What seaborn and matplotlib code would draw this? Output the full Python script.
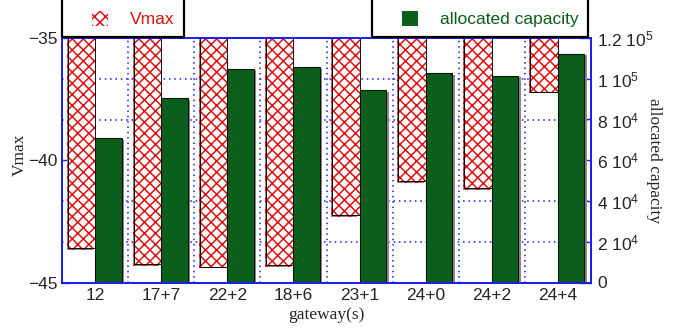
import numpy as np
import pandas as pd
import matplotlib
matplotlib.use("Agg")
import matplotlib.pyplot as plt
import seaborn as sns
from matplotlib import patheffects as pe
from matplotlib.patches import Patch, Rectangle
from matplotlib.ticker import FixedLocator, FuncFormatter

# ---- data ----
gateways = ["12", "17+7", "22+2", "18+6", "23+1", "24+0", "24+2", "24+4"]
vmax = [-43.6, -44.25, -44.35, -44.3, -42.25, -40.85, -41.15, -37.2]
capacity = [71000, 90600, 104900, 105700, 94400, 102800, 101500, 112300]
series = ["Vmax", "allocated capacity"]
left_ticks = [-35, -40, -45]
right_ticks = [0, 20000, 40000, 60000, 80000, 100000, 120000]

sns.set_style("white")
plt.rcParams["font.family"] = ["Liberation Sans", "DejaVu Sans"]
plt.rcParams["mathtext.fontset"] = "custom"
plt.rcParams["mathtext.rm"] = "Liberation Sans"
plt.rcParams["mathtext.default"] = "regular"
plt.rcParams["hatch.linewidth"] = 1.1

RED = "#dd1111"
GREEN = "#0b5e1c"
BLUE = "#1a1aee"
SERIF = ["Liberation Serif", "DejaVu Serif"]
FS = 12.5
HATCH = "xxx"

fig = plt.figure(figsize=(6.75, 3.3), dpi=100)
ax1 = fig.add_axes([62 / 675, 47.5 / 330, 529 / 675, 244.5 / 330])
ax2 = ax1.twinx()

df_v = pd.DataFrame({"gateway": gateways, "value": vmax, "series": series[0]})
df_c = pd.DataFrame({"gateway": gateways, "value": capacity, "series": series[1]})
pal = {series[0]: "white", series[1]: GREEN}

sns.barplot(data=df_v, x="gateway", y="value", hue="series", hue_order=series,
            order=gateways, palette=pal, dodge=True, width=0.8, errorbar=None,
            legend=False, saturation=1, ax=ax1)
sns.barplot(data=df_c, x="gateway", y="value", hue="series", hue_order=series,
            order=gateways, palette=pal, dodge=True, width=0.8, errorbar=None,
            legend=False, saturation=1, ax=ax2)

for p in ax1.patches:
    p.set_edgecolor(RED)
    p.set_hatch(HATCH)
    p.set_linewidth(0)
    p.set_path_effects([
        pe.SimplePatchShadow(offset=(-1.5, -1.2), shadow_rgbFace="0.55", alpha=1),
        pe.Stroke(linewidth=1.3, foreground="black"),
        pe.Normal(),
    ])
for p in ax2.patches:
    p.set_edgecolor("#111111")
    p.set_linewidth(0.8)
    p.set_path_effects([
        pe.SimplePatchShadow(offset=(1.8, -1.2), shadow_rgbFace="0.55", alpha=1),
        pe.Normal(),
    ])

# axes ranges / ticks
ax1.set_xlim(-0.5, len(gateways) - 0.5)
ax1.set_ylim(-45, -35)
ax1.set_yticks(left_ticks)
ax2.set_ylim(0, 120000)
ax2.set_yticks(right_ticks)


def cap_fmt(v, pos):
    if v == 0:
        return "0"
    e = int(np.floor(np.log10(v)))
    m = v / 10 ** e
    return "%g $10^{%d}$" % (m, e)


ax2.yaxis.set_major_formatter(FuncFormatter(cap_fmt))

grid_pos = -45 + np.array(right_ticks) / 120000 * 10
ax1.yaxis.set_minor_locator(FixedLocator(grid_pos))
ax1.xaxis.set_minor_locator(FixedLocator(np.arange(0.5, len(gateways) - 0.5, 1)))
ax1.grid(False)
ax1.grid(which="minor", color=BLUE, linestyle=(0, (1, 2.5)), linewidth=1.1)
ax1.set_axisbelow(True)
ax2.grid(False)
ax2.patch.set_visible(False)

ax1.tick_params(axis="y", which="major", direction="in", length=5, width=1,
                color=BLUE, labelsize=FS, pad=3.5, left=True)
ax1.tick_params(which="minor", length=0)
ax1.tick_params(axis="x", which="major", length=0, labelsize=FS, pad=4)
ax2.tick_params(axis="y", which="major", direction="in", length=9, width=1,
                color=BLUE, labelsize=FS, pad=4.3, right=True)

for ax in (ax1, ax2):
    for s in ax.spines.values():
        s.set_color(BLUE)
        s.set_linewidth(1.2)
        s.set_visible(True)

# labels
ax1.set_xlabel("gateway(s)", fontfamily=SERIF, fontsize=FS)
ax1.xaxis.set_label_coords(0.5, -0.133)
ax1.xaxis.label.set_va("center")
ax1.set_ylabel("Vmax", fontfamily=SERIF, fontsize=FS)
ax1.yaxis.set_label_coords(-42 / 529, 0.521)
ax1.yaxis.label.set(ha="center", va="center")
ax2.set_ylabel("allocated capacity", fontfamily=SERIF, fontsize=FS, rotation=270)
ax2.yaxis.set_label_coords(592 / 529, 0.5)
ax2.yaxis.label.set(ha="center", va="center", rotation_mode="anchor")

# legend boxes
for x0, x1 in [(62, 184), (371.7, 588.3)]:
    fig.patches.append(Rectangle((x0 / 675, 1 - 37 / 330), (x1 - x0) / 675, 45 / 330,
                                 transform=fig.transFigure, fill=False,
                                 edgecolor="black", linewidth=1.6, clip_on=False))

em = FS * 100 / 72
fig.legend(handles=[Patch(facecolor="white", edgecolor=RED, hatch=HATCH, linewidth=0)],
           labels=[series[0]], loc="center left",
           bbox_to_anchor=(92 / 675, 1 - 19 / 330), bbox_transform=fig.transFigure,
           frameon=False, borderpad=0, borderaxespad=0,
           handlelength=16 / em, handleheight=16 / em, handletextpad=22 / em,
           fontsize=FS, labelcolor=RED)
fig.legend(handles=[Patch(facecolor=GREEN, edgecolor="none", linewidth=0)],
           labels=[series[1]], loc="center left",
           bbox_to_anchor=(401.7 / 675, 1 - 19 / 330), bbox_transform=fig.transFigure,
           frameon=False, borderpad=0, borderaxespad=0,
           handlelength=16 / em, handleheight=16 / em, handletextpad=22 / em,
           fontsize=FS, labelcolor=GREEN)

fig.savefig("out.png", dpi=100)
